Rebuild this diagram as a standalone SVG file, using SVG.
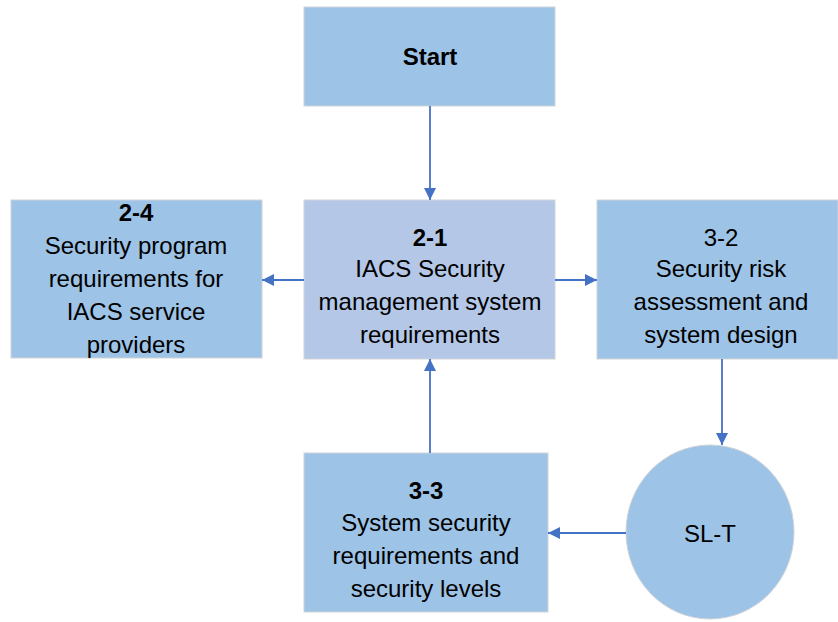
<svg xmlns="http://www.w3.org/2000/svg" width="838" height="622" viewBox="0 0 838 622">
<style>
.box{fill:#9dc3e6;stroke:#d0d3d8;stroke-width:1}
.box2{fill:#b4c7e7;stroke:#d0d3d8;stroke-width:1}
text{font-family:"Liberation Sans",Arial,sans-serif;font-size:24px;fill:#000;text-anchor:middle}
.b{font-weight:bold}
.c{stroke:#4472c4;stroke-width:1.8;fill:none;marker-end:url(#ah)}
</style>
<defs>
<marker id="ah" viewBox="0 0 10 10" refX="10" refY="5" markerWidth="13" markerHeight="12" markerUnits="userSpaceOnUse" orient="auto">
<path d="M0,0 L10,5 L0,10 z" fill="#4472c4"/>
</marker>
</defs>
<rect width="838" height="622" fill="#fff"/>
<g id="start">
<rect class="box" x="304" y="7" width="251" height="99"/>
<text class="b" x="430" y="65">Start</text>
</g>
<g id="n21">
<rect class="box2" x="304" y="200" width="251" height="159"/>
<text class="b" x="430" y="246">2-1</text>
<text x="430" y="277">IACS Security</text>
<text x="430" y="310">management system</text>
<text x="430" y="343">requirements</text>
</g>
<g id="n24">
<rect class="box" x="11" y="200" width="251" height="158"/>
<text class="b" x="136" y="221">2-4</text>
<text x="136" y="254">Security program</text>
<text x="136" y="287">requirements for</text>
<text x="136" y="320">IACS service</text>
<text x="136" y="353">providers</text>
</g>
<g id="n32">
<rect class="box" x="597" y="200" width="241" height="159"/>
<text x="721" y="246">3-2</text>
<text x="721" y="277">Security risk</text>
<text x="721" y="310">assessment and</text>
<text x="721" y="343">system design</text>
</g>
<g id="slt">
<ellipse class="box" cx="710" cy="532" rx="84" ry="87"/>
<text x="710" y="542">SL-T</text>
</g>
<g id="n33">
<rect class="box" x="304" y="453" width="244" height="159"/>
<text class="b" x="426" y="499">3-3</text>
<text x="426" y="531">System security</text>
<text x="426" y="564">requirements and</text>
<text x="426" y="597">security levels</text>
</g>
<g id="connectors">
<line class="c" x1="430" y1="106" x2="430" y2="200"/>
<line class="c" x1="304" y1="280" x2="262" y2="280"/>
<line class="c" x1="555" y1="280" x2="597" y2="280"/>
<line class="c" x1="722" y1="359" x2="722" y2="445"/>
<line class="c" x1="626" y1="533" x2="548" y2="533"/>
<line class="c" x1="430" y1="453" x2="430" y2="359"/>
</g>
</svg>
